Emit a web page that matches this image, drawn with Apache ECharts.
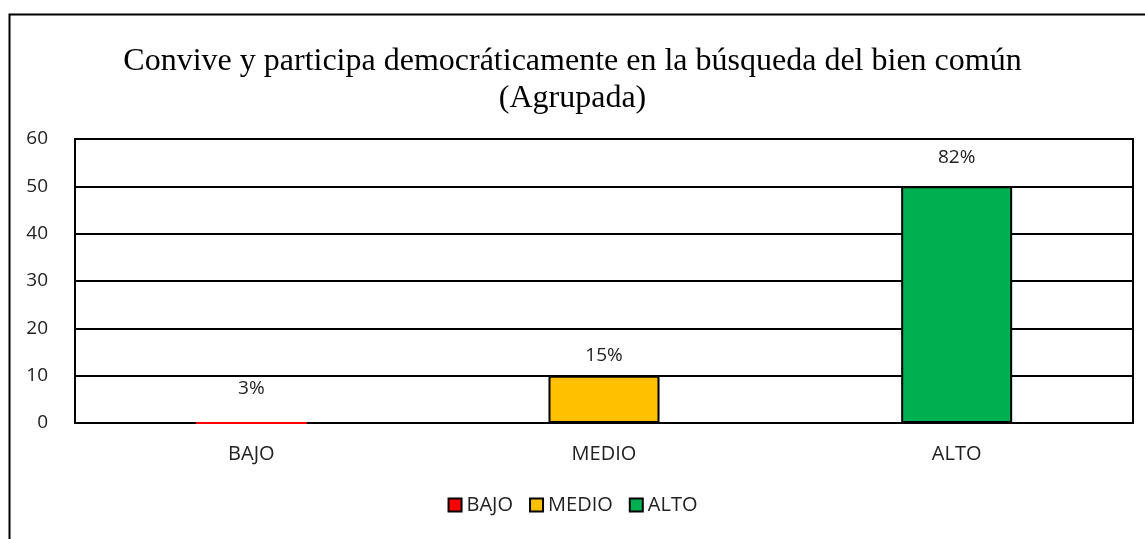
<!DOCTYPE html>
<html>
<head>
<meta charset="utf-8">
<script src="https://cdn.jsdelivr.net/npm/echarts@6/dist/echarts.min.js"></script>
<style>
  html, body { margin: 0; padding: 0; background: #fff; }
  #chart { width: 1145px; height: 539px; }
</style>
</head>
<body>
<div id="chart"></div>
<script>
// datos del grafico
var categorias = ['BAJO', 'MEDIO', 'ALTO'];
var valores = [0, 10, 50];
var porcentajes = ['3%', '15%', '82%'];
var colores = ['#FF0000', '#FFC000', '#00B050'];
var titulo = 'Convive y participa democráticamente en la búsqueda del bien común\n(Agrupada)';

var myChart = echarts.init(document.getElementById('chart'));

// distancia de la etiqueta sobre cada barra
var distEtiqueta = [24, 11, 19];

// una serie por nivel para que salga en la leyenda
var series = categorias.map(function (nombre, i) {
  var datos = categorias.map(function (c, j) {
    if (j !== i) return '-';
    return {
      value: valores[j],
      label: { distance: distEtiqueta[j] }
    };
  });
  return {
    name: nombre,
    type: 'bar',
    data: datos,
    barWidth: 111,
    barGap: '-100%',
    itemStyle: {
      color: colores[i],
      borderColor: valores[i] === 0 ? colores[i] : '#000',
      borderWidth: 2
    },
    label: {
      show: true,
      position: 'top',
      color: '#222',
      fontSize: 19,
      fontFamily: 'Open Sans',
      formatter: function () { return porcentajes[i]; }
    }
  };
});

myChart.setOption({
  backgroundColor: '#fff',
  animation: false,
  graphic: [{
    type: 'rect',
    left: 7, top: 12,
    shape: { width: 1200, height: 600 },
    style: { fill: 'none', stroke: '#000', lineWidth: 2 },
    z: -1
  }],
  title: {
    text: titulo,
    left: 'center',
    top: 38,
    textStyle: {
      fontFamily: 'Liberation Serif',
      fontWeight: 'normal',
      fontSize: 32,
      color: '#000',
      lineHeight: 37
    }
  },
  legend: {
    data: categorias,
    bottom: 19,
    left: 'center',
    itemWidth: 13,
    itemHeight: 13,
    itemGap: 16,
    icon: 'rect',
    itemStyle: { borderColor: '#000', borderWidth: 2 },
    textStyle: { fontFamily: 'Open Sans', fontSize: 20, color: '#222' }
  },
  grid: {
    left: 75, right: 12, top: 139, bottom: 116,
    show: true,
    borderColor: '#000',
    borderWidth: 2
  },
  xAxis: {
    type: 'category',
    data: categorias,
    axisLine: { lineStyle: { color: '#000', width: 2 } },
    axisTick: { show: false },
    axisLabel: { fontFamily: 'Open Sans', fontSize: 20, color: '#222', margin: 21 }
  },
  yAxis: {
    type: 'value',
    min: 0, max: 60, interval: 10,
    axisLine: { show: true, lineStyle: { color: '#000', width: 2 } },
    axisTick: { show: false },
    splitLine: { lineStyle: { color: '#000', width: 2 } },
    axisLabel: { fontFamily: 'Open Sans', fontSize: 19, color: '#222', margin: 27 }
  },
  series: series
});
</script>
</body>
</html>
